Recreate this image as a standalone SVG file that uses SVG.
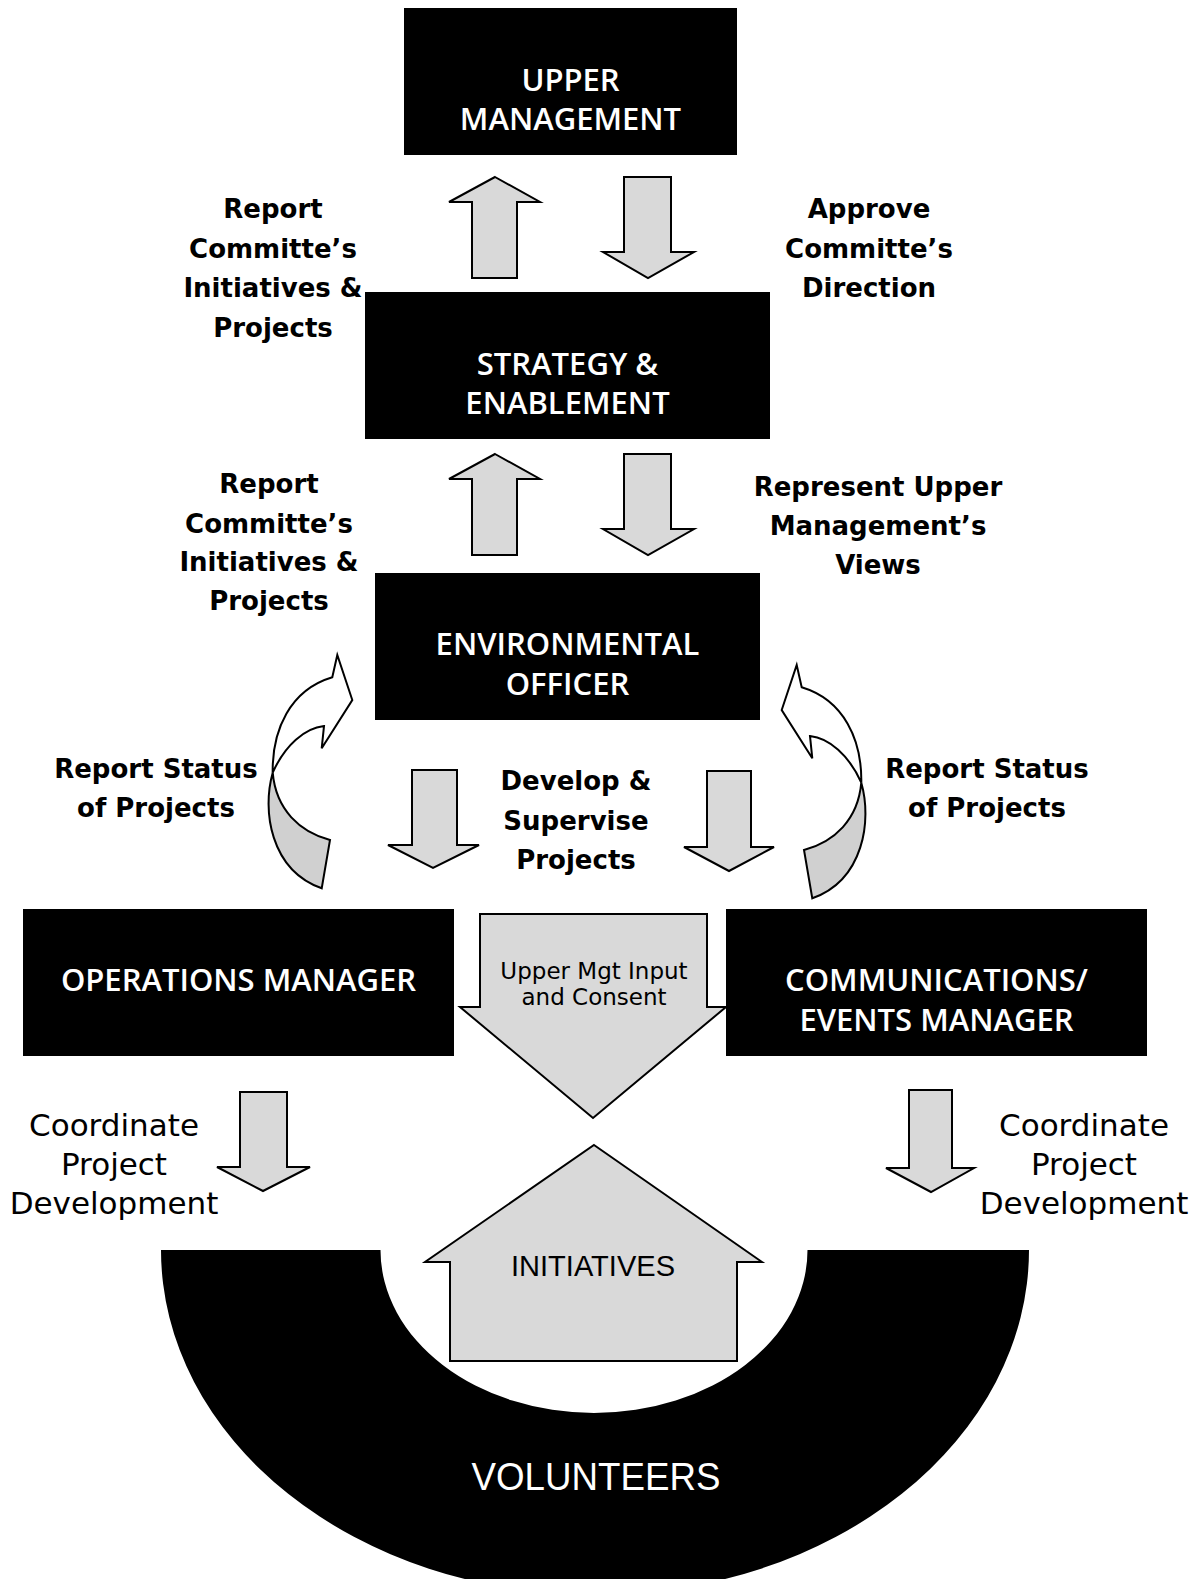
<svg xmlns="http://www.w3.org/2000/svg" width="1202" height="1579" viewBox="0 0 1202 1579">
  <defs>
    <style>
      .box { fill: #000; }
      .boxtxt { font-family: "Open Sans", "Liberation Sans", sans-serif; font-weight: 600; font-size: 31px; fill: #fff; text-anchor: middle; }
      .lbl { font-family: "DejaVu Sans", "Liberation Sans", sans-serif; font-weight: bold; font-size: 26px; fill: #000; text-anchor: middle; }
      .plain { font-family: "DejaVu Sans", "Liberation Sans", sans-serif; font-size: 31px; fill: #000; text-anchor: middle; }
      .small { font-family: "DejaVu Sans", "Liberation Sans", sans-serif; font-size: 23px; fill: #000; text-anchor: middle; }
      .blk { fill: #d9d9d9; stroke: #000; stroke-width: 2; stroke-linejoin: miter; }
      .curveFront { fill: #fff; stroke: #000; stroke-width: 2; stroke-linejoin: miter; }
      .curveBack { fill: #d0d0d0; stroke: #000; stroke-width: 2; stroke-linejoin: miter; }
    </style>
    <!-- twisted ribbon arrow bending up and to the right -->
    <g id="curlArrow">
      <path class="curveBack" d="M272.7 772.7 C262 810 270 870 321.7 888.3 L330 840 C300 832 276 810 272.7 772.7 Z"/>
      <path class="curveFront" d="M272.7 772.7 C272 730 290 690 332.3 677.3 L337.3 655 L352.3 700 L321.7 748.3 L324 726 C305 728 285 745 272.7 772.7 Z"/>
    </g>
  </defs>

  <rect width="1202" height="1579" fill="#fff"/>

  <!-- volunteers base -->
  <g id="volunteers">
    <path class="box" d="M161 1250 A434 345 0 0 0 1029 1250 L807.5 1250 A213.5 163 0 0 1 380.5 1250 Z"/>
    <text x="596" y="1490" font-family="Liberation Sans Narrow, Liberation Sans, sans-serif" font-size="39" fill="#fff" text-anchor="middle" textLength="249" lengthAdjust="spacingAndGlyphs">VOLUNTEERS</text>
  </g>

  <g id="upper-management">
    <rect class="box" x="404" y="8" width="333" height="147"/>
    <text class="boxtxt" x="570.5" y="91">UPPER</text>
    <text class="boxtxt" x="570.5" y="130">MANAGEMENT</text>
  </g>

  <g id="strategy-enablement">
    <rect class="box" x="365" y="292" width="405" height="147"/>
    <text class="boxtxt" x="567.5" y="374.5">STRATEGY &amp;</text>
    <text class="boxtxt" x="567.5" y="413.5">ENABLEMENT</text>
  </g>

  <g id="environmental-officer">
    <rect class="box" x="375" y="573" width="385" height="147"/>
    <text class="boxtxt" x="567.5" y="655">ENVIRONMENTAL</text>
    <text class="boxtxt" x="567.5" y="694.5">OFFICER</text>
  </g>

  <g id="operations-manager">
    <rect class="box" x="23" y="909" width="431" height="147"/>
    <text class="boxtxt" x="238.5" y="991">OPERATIONS MANAGER</text>
  </g>

  <g id="communications-manager">
    <rect class="box" x="726" y="909" width="421" height="147"/>
    <text class="boxtxt" x="936.5" y="991">COMMUNICATIONS/</text>
    <text class="boxtxt" x="936.5" y="1030.5">EVENTS MANAGER</text>
  </g>

  <g id="initiatives">
    <polygon class="blk" points="594,1145 762,1262 737,1262 737,1361 450,1361 450,1262 425,1262"/>
    <text x="593" y="1276" font-family="Liberation Sans Narrow, Liberation Sans, sans-serif" font-size="30" fill="#000" text-anchor="middle" textLength="164" lengthAdjust="spacingAndGlyphs">INITIATIVES</text>
  </g>

  <g id="connectors">
    <!-- upper management / strategy -->
    <polygon class="blk" points="495,177 540,202 517,202 517,278 472,278 472,202 449,202"/>
    <polygon class="blk" points="624,177 671,177 671,252 694,252 648,278 603,252 624,252"/>
    <!-- strategy / environmental officer -->
    <polygon class="blk" points="495,454 540,479 517,479 517,555 472,555 472,479 449,479"/>
    <polygon class="blk" points="624,454 671,454 671,529 694,529 648,555 603,529 624,529"/>
    <!-- officer to managers -->
    <polygon class="blk" points="412,770 457,770 457,845 479,845 433,868 388,845 412,845"/>
    <polygon class="blk" points="707,771 751,771 751,847 774,847 729,871 684,847 707,847"/>
    <!-- managers to volunteers -->
    <polygon class="blk" points="240,1092 287,1092 287,1167 310,1167 263,1191 217,1167 240,1167"/>
    <polygon class="blk" points="909,1090 952,1090 952,1168 974,1168 931,1192 886,1168 909,1168"/>
    <!-- upper management input -->
    <polygon class="blk" points="480,914 707,914 707,1007 726,1007 593,1118 460,1007 480,1007"/>
    <text class="small" x="594" y="979">Upper Mgt Input</text>
    <text class="small" x="594" y="1005">and Consent</text>
    <!-- status reports back to the officer -->
    <use href="#curlArrow"/>
    <use href="#curlArrow" transform="translate(1134,10) scale(-1,1)"/>
  </g>

  <g id="labels">
    <text class="lbl" x="273" y="218">Report</text>
    <text class="lbl" x="273" y="257.5">Committe’s</text>
    <text class="lbl" x="273" y="297">Initiatives &amp;</text>
    <text class="lbl" x="273" y="336.5">Projects</text>

    <text class="lbl" x="869" y="218">Approve</text>
    <text class="lbl" x="869" y="257.5">Committe’s</text>
    <text class="lbl" x="869" y="297">Direction</text>

    <text class="lbl" x="269" y="493">Report</text>
    <text class="lbl" x="269" y="532.5">Committe’s</text>
    <text class="lbl" x="269" y="571">Initiatives &amp;</text>
    <text class="lbl" x="269" y="610">Projects</text>

    <text class="lbl" x="878" y="496">Represent Upper</text>
    <text class="lbl" x="878" y="534.5">Management’s</text>
    <text class="lbl" x="878" y="574">Views</text>

    <text class="lbl" x="156" y="778">Report Status</text>
    <text class="lbl" x="156" y="816.5">of Projects</text>

    <text class="lbl" x="987" y="778">Report Status</text>
    <text class="lbl" x="987" y="816.5">of Projects</text>

    <text class="lbl" x="576" y="790">Develop &amp;</text>
    <text class="lbl" x="576" y="829.5">Supervise</text>
    <text class="lbl" x="576" y="869">Projects</text>

    <text class="plain" x="114" y="1136">Coordinate</text>
    <text class="plain" x="114" y="1175">Project</text>
    <text class="plain" x="114" y="1214">Development</text>

    <text class="plain" x="1084" y="1136">Coordinate</text>
    <text class="plain" x="1084" y="1175">Project</text>
    <text class="plain" x="1084" y="1214">Development</text>
  </g>
</svg>
